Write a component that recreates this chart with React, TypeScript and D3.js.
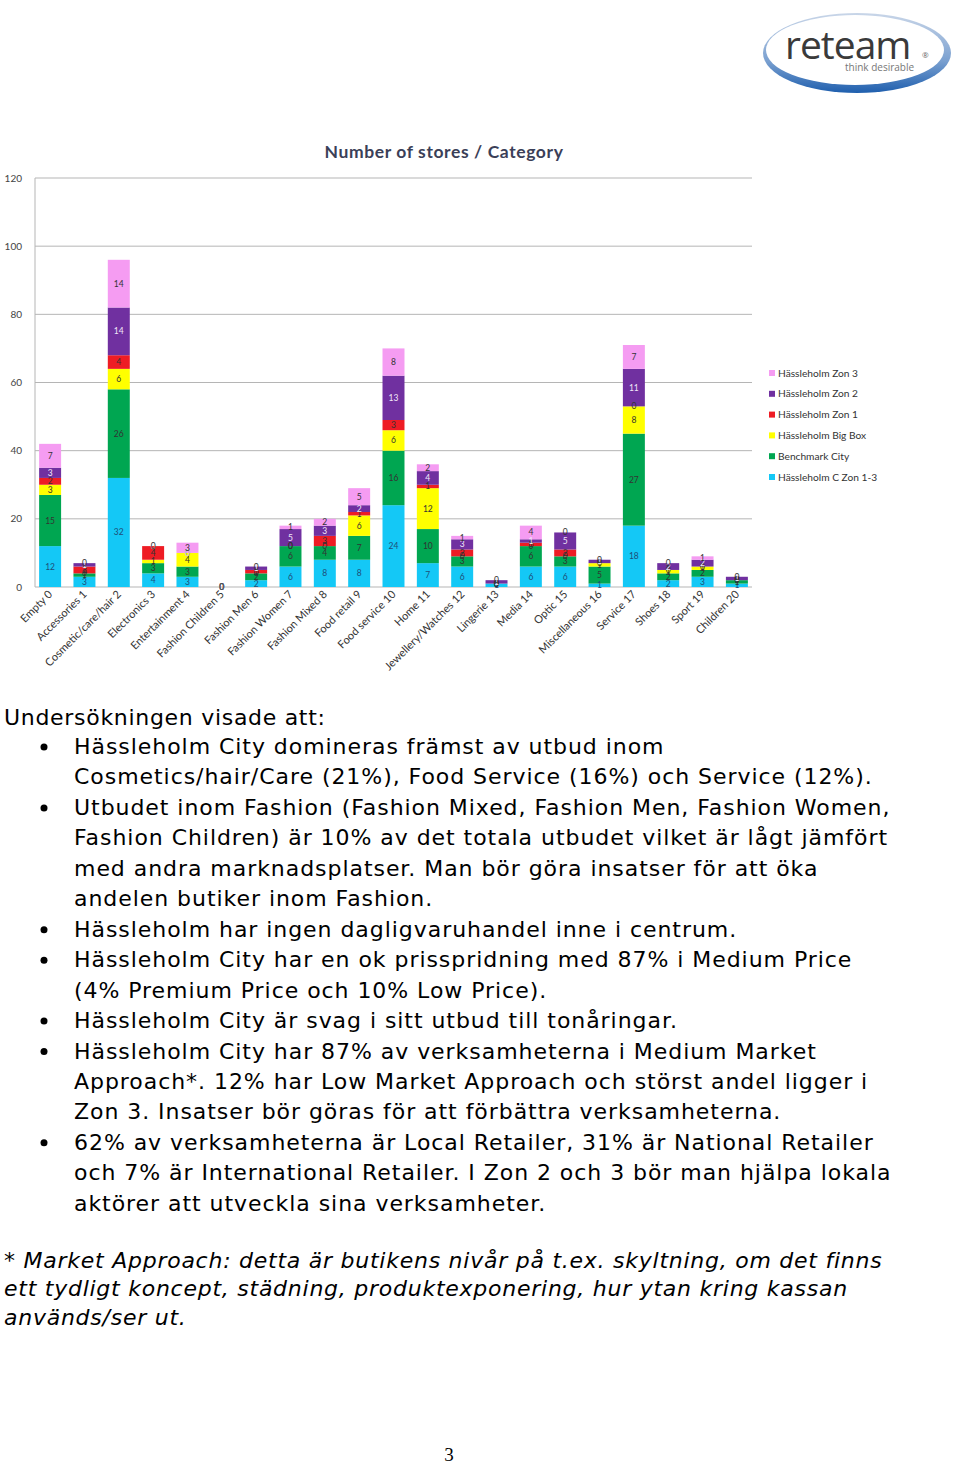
import React from "react";
import * as d3 from "d3";

// categories on the x axis
const categories = [
  "Empty 0", "Accessories 1", "Cosmetic/care/hair 2", "Electronics 3", "Entertainment 4",
  "Fashion Children 5", "Fashion Men 6", "Fashion Women 7", "Fashion Mixed 8", "Food retail 9",
  "Food service 10", "Home 11", "Jewellery/Watches 12", "Lingerie 13", "Media 14",
  "Optic 15", "Miscellaneous 16", "Service 17", "Shoes 18", "Sport 19", "Children 20",
];

// series values, bottom to top of each stack
const cZon13 = [12, 3, 32, 4, 3, 0, 2, 6, 8, 8, 24, 7, 6, 1, 6, 6, 1, 18, 2, 3, 1];
const benchmark = [15, 1, 26, 3, 3, 0, 2, 6, 4, 7, 16, 10, 3, 0, 6, 3, 5, 27, 2, 2, 1];
const bigBox = [3, 0, 6, 1, 4, 0, 0, 0, 0, 6, 6, 12, 0, 0, 0, 0, 1, 8, 1, 1, 0];
const zon1 = [2, 2, 4, 4, 0, 0, 1, 0, 3, 1, 3, 1, 2, 0, 1, 2, 0, 0, 0, 0, 0];
const zon2 = [3, 1, 14, 0, 0, 0, 1, 5, 3, 2, 13, 4, 3, 1, 1, 5, 1, 11, 2, 2, 1];
const zon3 = [7, 0, 14, 0, 3, 0, 0, 1, 2, 5, 8, 2, 1, 0, 4, 0, 0, 7, 0, 1, 0];

const seriesNames = [
  "Hässleholm C Zon 1-3", "Benchmark City", "Hässleholm Big Box",
  "Hässleholm Zon 1", "Hässleholm Zon 2", "Hässleholm Zon 3",
];
const seriesValues = [cZon13, benchmark, bigBox, zon1, zon2, zon3];
const seriesColors = ["#14c8f6", "#00a651", "#ffff00", "#ee1c24", "#7030a0", "#f59cf2"];

const yTicks = [0, 20, 40, 60, 80, 100, 120];

const intro = "Undersökningen visade att:";
const bulletLines: [string, boolean][] = [
  ["Hässleholm City domineras främst av utbud inom", true],
  ["Cosmetics/hair/Care (21%), Food Service (16%) och Service (12%).", false],
  ["Utbudet inom Fashion (Fashion Mixed, Fashion Men, Fashion Women,", true],
  ["Fashion Children) är 10% av det totala utbudet vilket är lågt jämfört", false],
  ["med andra marknadsplatser. Man bör göra insatser för att öka", false],
  ["andelen butiker inom Fashion.", false],
  ["Hässleholm har ingen dagligvaruhandel inne i centrum.", true],
  ["Hässleholm City har en ok prisspridning med 87% i Medium Price", true],
  ["(4% Premium Price och 10% Low Price).", false],
  ["Hässleholm City är svag i sitt utbud till tonåringar.", true],
  ["Hässleholm City har 87% av verksamheterna i Medium Market", true],
  ["Approach*. 12% har Low Market Approach och störst andel ligger i", false],
  ["Zon 3. Insatser bör göras för att förbättra verksamheterna.", false],
  ["62% av verksamheterna är Local Retailer, 31% är National Retailer", true],
  ["och 7% är International Retailer. I Zon 2 och 3 bör man hjälpa lokala", false],
  ["aktörer att utveckla sina verksamheter.", false],
];
const footnote = [
  "* Market Approach: detta är butikens nivår på t.ex. skyltning, om det finns",
  "ett tydligt koncept, städning, produktexponering, hur ytan kring kassan",
  "används/ser ut.",
];

const chartFont = "Lato, 'Open Sans', sans-serif";
const bodyFont = "'DejaVu Sans', Verdana, sans-serif";

export default function App() {
  const plot = { left: 35, right: 752, top: 178, bottom: 587 };

  const x = d3
    .scaleBand<string>()
    .domain(categories)
    .range([plot.left, plot.right])
    .paddingInner(0.36)
    .paddingOuter(0.12);
  const y = d3.scaleLinear().domain([0, 120]).range([plot.bottom, plot.top]);

  const rows = categories.map((c, i) => {
    const r: Record<string, number | string> = { cat: c };
    seriesNames.forEach((s, j) => (r[s] = seriesValues[j][i]));
    return r;
  });
  const stacked = d3.stack<Record<string, number | string>>().keys(seriesNames)(rows as any);

  return (
    <svg
      width={960}
      height={1464}
      style={{ position: "absolute", left: 0, top: 0, background: "#fff" }}
    >
      <defs>
        <linearGradient id="ring" x1="0" y1="0" x2="0" y2="1">
          <stop offset="0" stopColor="#c9d6e8" />
          <stop offset="0.6" stopColor="#7aa0d0" />
          <stop offset="1" stopColor="#1f5fae" />
        </linearGradient>
      </defs>

      {/* logo */}
      <g>
        <ellipse cx={857} cy={53} rx={94} ry={40} fill="url(#ring)" />
        <ellipse cx={855} cy={50} rx={89} ry={35} fill="#fff" />
        <text x={785} y={59} fontFamily="'Open Sans', sans-serif" fontSize={39} fill="#3a3a3a" letterSpacing={-1}>
          reteam
        </text>
        <text x={922} y={58} fontFamily="'Open Sans', sans-serif" fontSize={8} fill="#666">®</text>
        <text x={845} y={71} fontFamily="'Open Sans', sans-serif" fontSize={10} fill="#777">
          think desirable
        </text>
      </g>

      {/* chart title */}
      <text
        x={444}
        y={158}
        textAnchor="middle"
        fontFamily={chartFont}
        fontWeight="bold"
        fontSize={17.5}
        letterSpacing={0.6}
        fill="#3b3f58"
      >
        Number of stores / Category
      </text>

      {/* gridlines and y ticks */}
      {yTicks.map((t) => (
        <g key={t}>
          <line x1={plot.left} x2={plot.right} y1={y(t)} y2={y(t)} stroke="#b5b5b5" strokeWidth={1} />
          <text x={22} y={y(t) + 3.5} textAnchor="end" fontFamily={chartFont} fontSize={10} fill="#444">
            {t}
          </text>
        </g>
      ))}
      <line x1={plot.left} x2={plot.left} y1={plot.top} y2={plot.bottom} stroke="#b5b5b5" />

      {/* bars */}
      {stacked.map((layer, si) => (
        <g key={layer.key}>
          {layer.map((d, ci) => (
            <rect
              key={ci}
              x={x(categories[ci])}
              y={y(d[1])}
              width={x.bandwidth()}
              height={y(d[0]) - y(d[1])}
              fill={seriesColors[si]}
            />
          ))}
        </g>
      ))}

      {/* data labels */}
      {stacked.map((layer, si) => (
        <g key={"l" + layer.key}>
          {layer.map((d, ci) => (
            <text
              key={ci}
              x={(x(categories[ci]) ?? 0) + x.bandwidth() / 2}
              y={y((d[0] + d[1]) / 2) + 3}
              textAnchor="middle"
              fontFamily={chartFont}
              fontSize={8.5}
              fill={si === 4 ? "#f0e8f8" : si === 0 ? "#1f4e79" : "#333"}
            >
              {seriesValues[si][ci]}
            </text>
          ))}
        </g>
      ))}

      {/* x labels */}
      {categories.map((c) => {
        const cx = (x(c) ?? 0) + x.bandwidth() / 2 + 3;
        return (
          <text
            key={c}
            transform={`translate(${cx},${plot.bottom + 8}) rotate(-45)`}
            textAnchor="end"
            fontFamily={chartFont}
            fontSize={11}
            fill="#333"
          >
            {c}
          </text>
        );
      })}

      {/* legend */}
      {seriesNames
        .map((s, i) => ({ s, i }))
        .reverse()
        .map(({ s, i }, k) => (
          <g key={s} transform={`translate(769,${373 + k * 20.8})`}>
            <rect x={0} y={-3} width={6} height={6} fill={seriesColors[i]} />
            <text x={9} y={3.5} fontFamily={chartFont} fontSize={10.2} fill="#333">
              {s}
            </text>
          </g>
        ))}

      {/* body text */}
      <text x={4} y={725} fontFamily={bodyFont} fontSize={22} letterSpacing={0.7} fill="#000">
        {intro}
      </text>
      {bulletLines.map(([line, bullet], i) => {
        const yy = 754 + i * 30.45;
        return (
          <g key={i}>
            {bullet && <circle cx={44} cy={yy - 7} r={3.5} fill="#000" />}
            <text x={74} y={yy} fontFamily={bodyFont} fontSize={22} letterSpacing={0.95} fill="#000">
              {line}
            </text>
          </g>
        );
      })}
      {footnote.map((line, i) => (
        <text
          key={i}
          x={4}
          y={1268 + i * 28.3}
          fontFamily={bodyFont}
          fontStyle="italic"
          fontSize={22}
          letterSpacing={0.75}
          fill="#000"
        >
          {line}
        </text>
      ))}

      <text x={449} y={1461} textAnchor="middle" fontFamily="'Liberation Serif', serif" fontSize={19} fill="#000">
        3
      </text>
    </svg>
  );
}
